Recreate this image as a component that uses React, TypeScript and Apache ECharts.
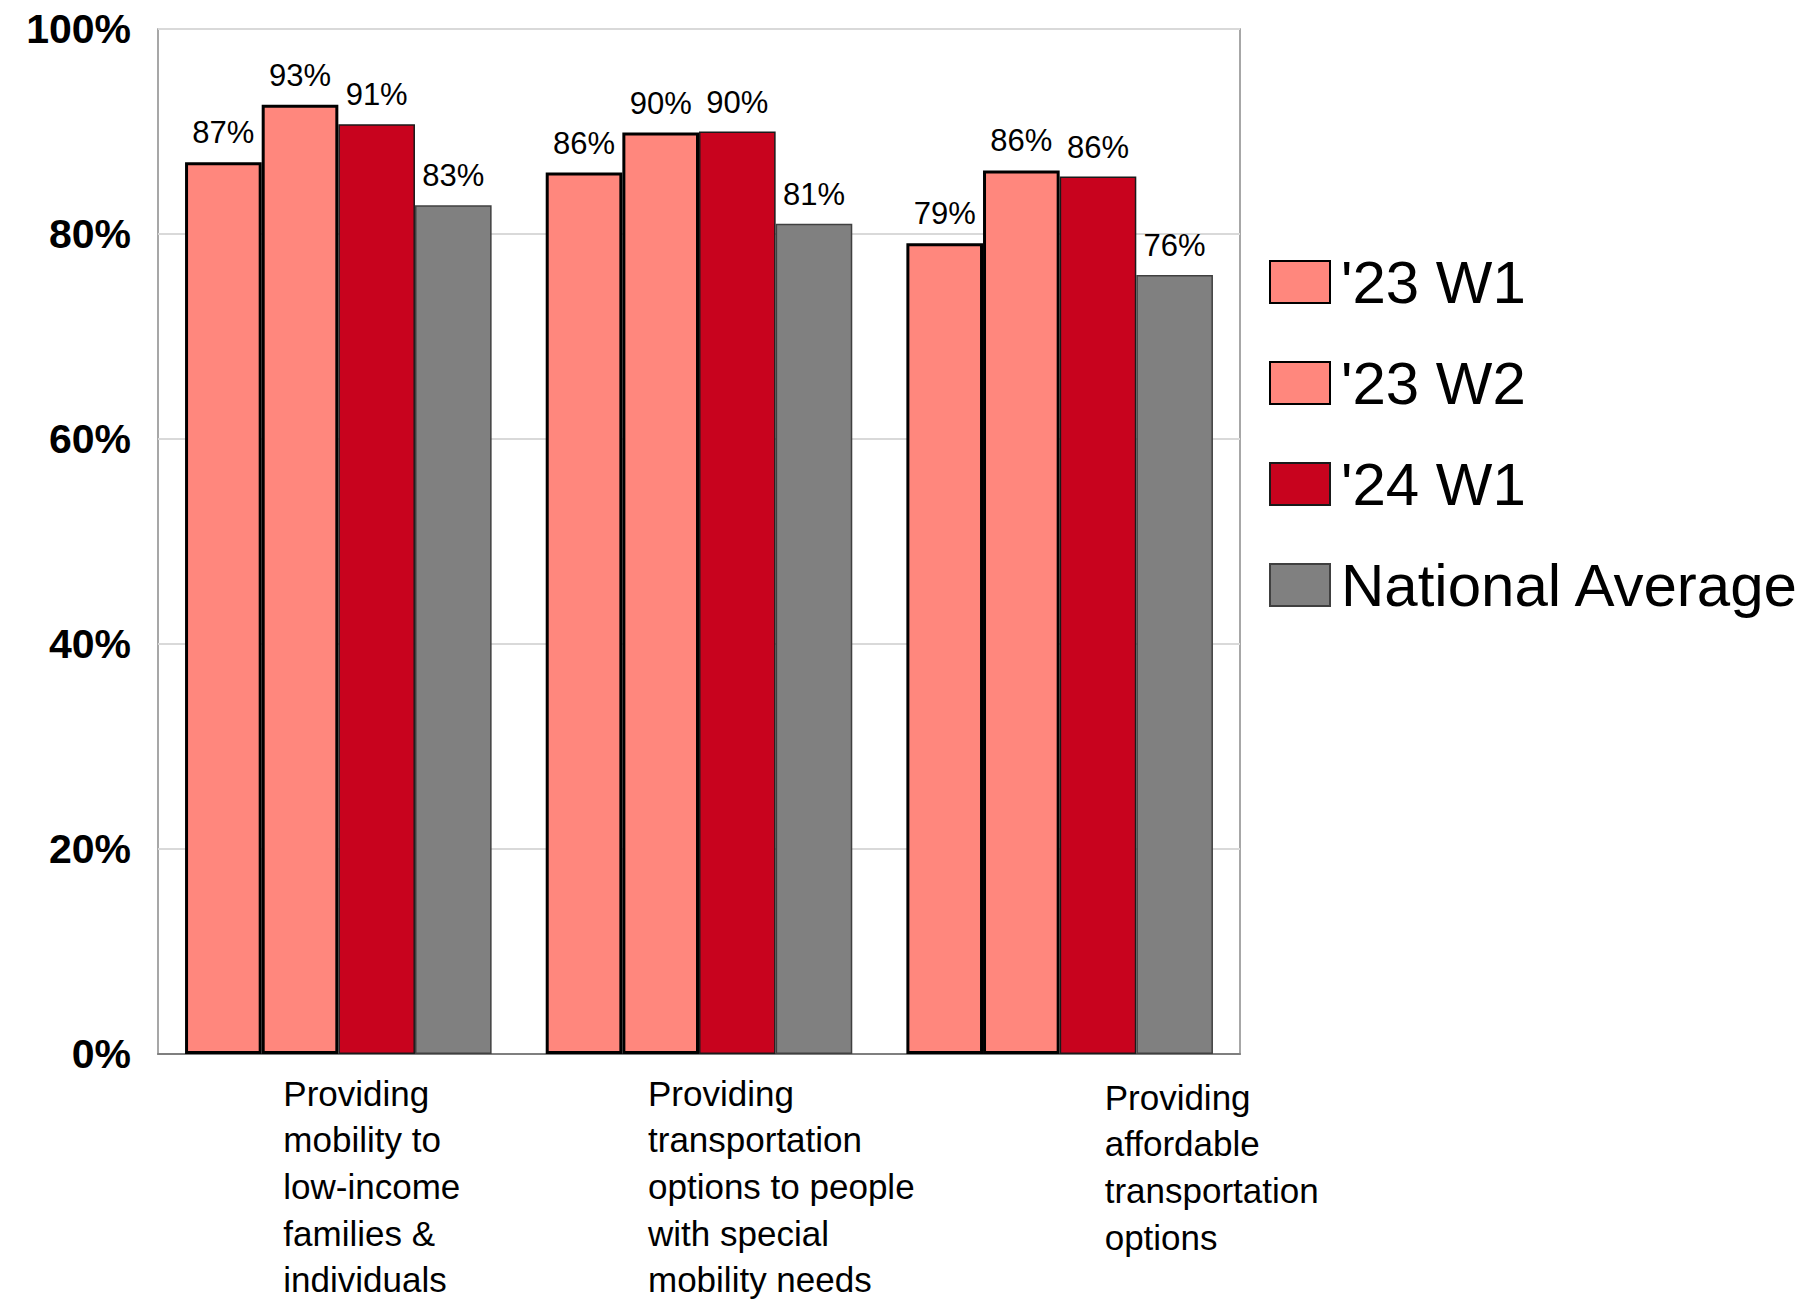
import React, { useEffect, useRef } from "react";
import * as echarts from "echarts";

const categories: string[][] = [
  ["Providing", "mobility to", "low-income", "families &", "individuals"],
  ["Providing", "transportation", "options to people", "with special", "mobility needs"],
  ["Providing", "affordable", "transportation", "options"],
];
const categoryKeys = ["mobility", "special", "affordable"];
const seriesNames = ["'23 W1", "'23 W2", "'24 W1", "National Average"];
const w1_23 = [87.0, 86.0, 79.1];
const w2_23 = [92.6, 89.9, 86.2];
const w1_24 = [90.7, 90.0, 85.6];
const national = [82.8, 81.0, 76.0];
const yTicks = { min: 0, max: 100, interval: 20 };

// horizontal offset (px) of each wrapped category label from its category centre
const labelOffsets = [-55, -51, 45];

const FONT = "'Liberation Sans', Arial, sans-serif";

export default function App() {
  const ref = useRef<HTMLDivElement>(null);
  useEffect(() => {
    document.body.style.margin = "0";
    if (!ref.current) return;
    const chart = echarts.init(ref.current, null, { renderer: "svg" });
    const styles = [
      { color: "#FF877D", borderColor: "#000000", borderWidth: 3 },
      { color: "#FF877D", borderColor: "#000000", borderWidth: 3 },
      { color: "#C8031E", borderColor: "#1a1a1a", borderWidth: 1.5 },
      { color: "#808080", borderColor: "#404040", borderWidth: 1.5 },
    ];
    const data = [w1_23, w2_23, w1_24, national];
    const gridBottom = 245;
    chart.setOption({
      animation: false,
      textStyle: { fontFamily: FONT },
      grid: {
        left: 158,
        right: 574,
        top: 29,
        bottom: gridBottom,
        show: true,
        borderColor: "#8a8a8a",
        borderWidth: 1.5,
        containLabel: false,
      },
      legend: {
        orient: "vertical",
        left: 1264,
        top: 247,
        icon: "rect",
        itemWidth: 60,
        itemHeight: 42,
        itemGap: 41,
        textStyle: { fontSize: 60, color: "#000", fontFamily: FONT, padding: [0, 0, 0, 6] },
        data: seriesNames,
      },
      xAxis: {
        type: "category",
        data: categoryKeys,
        axisLine: { show: true, lineStyle: { color: "#7f7f7f", width: 2 } },
        axisTick: { show: false },
        axisLabel: { show: false },
      },
      yAxis: {
        type: "value",
        min: yTicks.min,
        max: yTicks.max,
        interval: yTicks.interval,
        axisLine: { show: false },
        axisTick: { show: false },
        splitLine: { lineStyle: { color: "#D9D9D9", width: 2 } },
        axisLabel: {
          formatter: "{value}%",
          fontSize: 41,
          fontWeight: "bold",
          color: "#000",
          margin: 27,
          fontFamily: FONT,
        },
      },
      series: seriesNames.map((name, i) => ({
        name,
        type: "bar",
        data: data[i],
        barGap: "0%",
        barCategoryGap: "15%",
        itemStyle: styles[i],
        label: {
          show: true,
          position: "top",
          distance: 14,
          fontSize: 31,
          color: "#000",
          fontFamily: FONT,
          formatter: (p: any) => Math.round(p.value) + "%",
        },
      })),
    });

    const top = 1299 - gridBottom + 16;
    const graphics = categories.map((lines, i) => {
      const x = chart.convertToPixel({ xAxisIndex: 0 }, categoryKeys[i]) as number;
      return {
        type: "text",
        x: x + labelOffsets[i],
        y: top + (i === 2 ? 4 : 0),
        style: {
          text: lines.join("\n"),
          fontSize: 35,
          lineHeight: 46.6,
          fill: "#000",
          fontFamily: FONT,
          align: "left",
          verticalAlign: "top",
        },
      };
    });
    chart.setOption({ graphic: graphics });

    return () => chart.dispose();
  }, []);
  return <div ref={ref} style={{ width: 1814, height: 1299 }} />;
}
